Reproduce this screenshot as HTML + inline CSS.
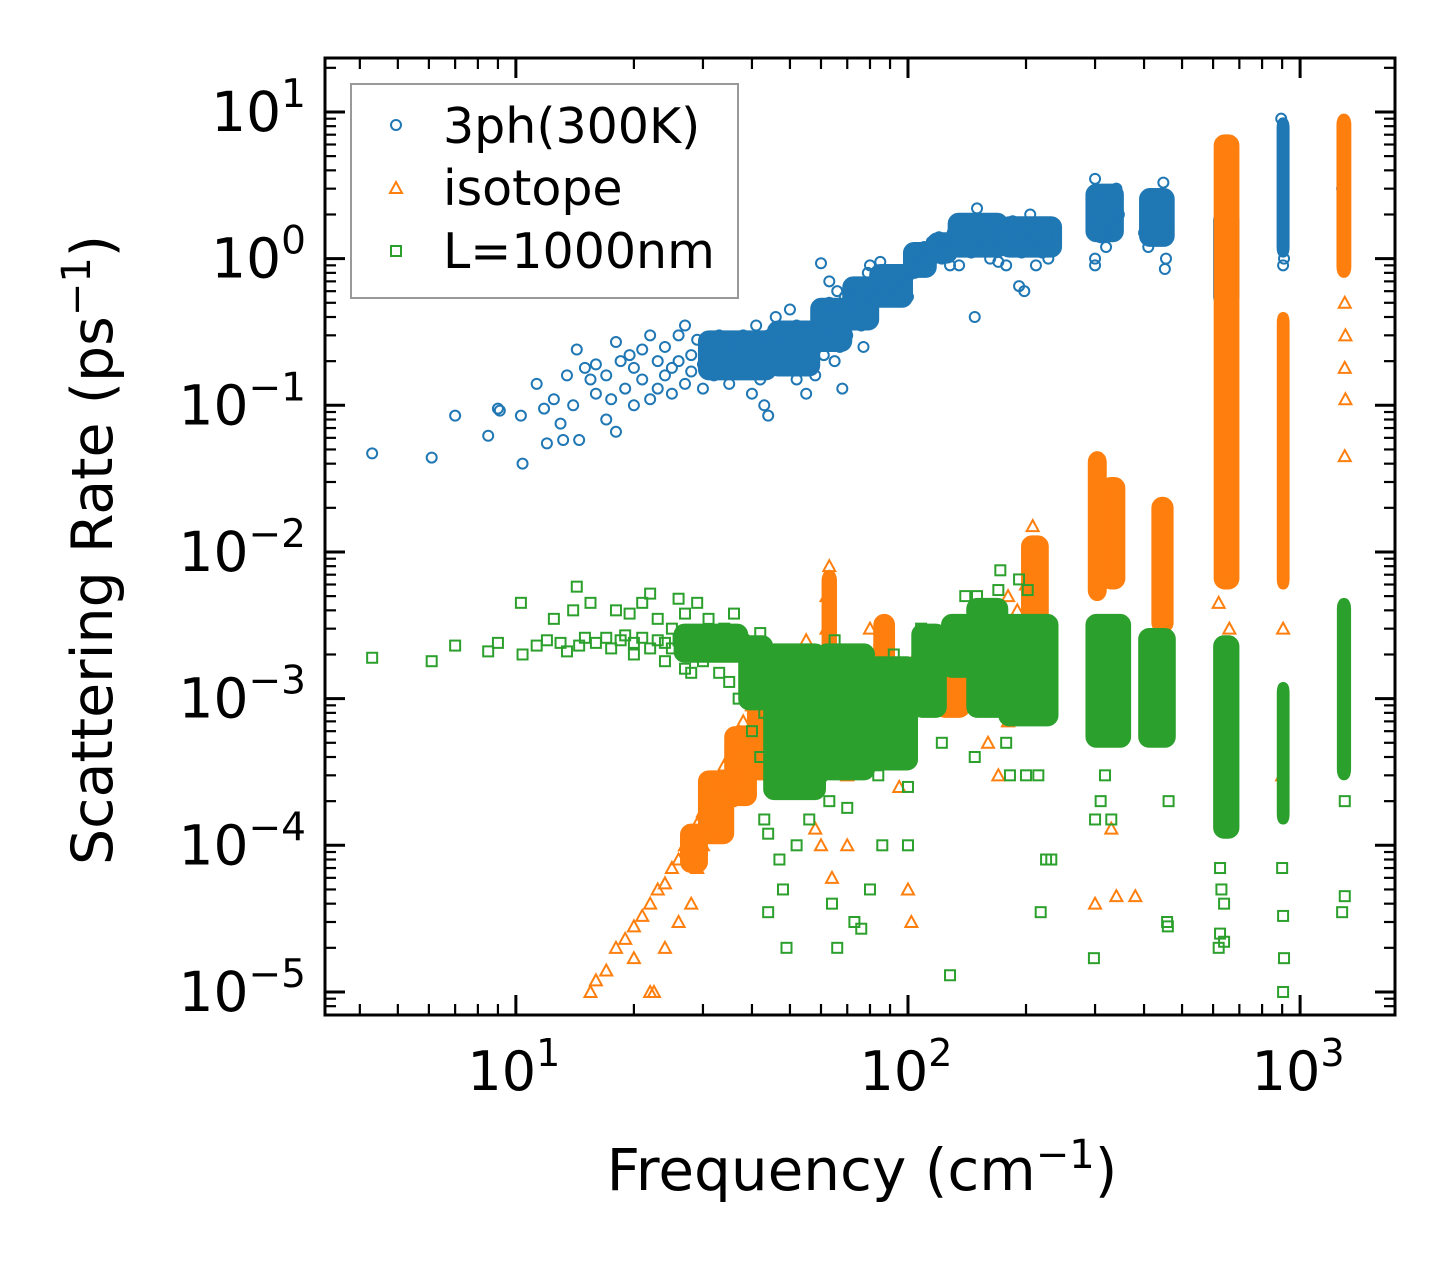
<!DOCTYPE html>
<html><head><meta charset="utf-8"><style>
html,body{margin:0;padding:0;background:#fff;}
svg{display:block;font-family:"DejaVu Sans","Liberation Sans",sans-serif;}
</style></head><body>
<svg id="chart" width="1455" height="1265" viewBox="0 0 1455 1265" xmlns="http://www.w3.org/2000/svg">
<rect x="0" y="0" width="1455" height="1265" fill="#fff"/>
<g id="marks"></g>
<g id="axes"></g>
<g>
<rect x="351" y="84" width="387" height="214" fill="#fff" fill-opacity="0.85" stroke="#999" stroke-width="2"/>
<circle cx="396" cy="125" r="5" fill="none" stroke="#1f77b4" stroke-width="2"/>
<text x="443" y="143" font-size="49">3ph(300K)</text>
<path d="M396,182 L402,193 L390,193 Z" fill="none" stroke="#ff7f0e" stroke-width="2"/>
<text x="443" y="205" font-size="49">isotope</text>
<rect x="391" y="246" width="10" height="10" fill="none" stroke="#2ca02c" stroke-width="2"/>
<text x="443" y="268" font-size="49">L=1000nm</text>
</g>
<text x="862" y="1190" font-size="58" text-anchor="middle">Frequency (cm<tspan dy="-22" font-size="40">−1</tspan><tspan dy="22">)</tspan></text>
<text transform="translate(112,550) rotate(-90)" font-size="57" text-anchor="middle">Scattering Rate (ps<tspan dy="-22" font-size="40">−1</tspan><tspan dy="22">)</tspan></text>
</svg>
<script>
const bluePts=[[4.3,0.047],[6.1,0.044],[7,0.085],[8.5,0.062],[9,0.095],[9.1,0.092],[10.4,0.04],[10.3,0.085],[11.3,0.14],[11.8,0.095],[12,0.055],[12.5,0.11],[13,0.075],[13.2,0.058],[13.5,0.16],[14,0.1],[14.3,0.24],[14.5,0.058],[15,0.18],[15.5,0.15],[16,0.19],[16,0.12],[17,0.16],[17,0.08],[17.5,0.11],[18,0.27],[18,0.066],[18.5,0.2],[19,0.13],[19.5,0.22],[20,0.18],[20,0.1],[21,0.24],[21,0.15],[22,0.11],[22,0.3],[23,0.2],[23,0.13],[24,0.25],[24,0.16],[25,0.18],[25,0.12],[26,0.3],[26,0.2],[27,0.14],[27,0.35],[28,0.22],[28,0.17],[29,0.28],[30,0.19],[30,0.13],[31,0.25],[32,0.16],[33,0.3],[34,0.2],[35,0.22],[35,0.14],[36,0.27],[37,0.18],[38,0.3],[39,0.24],[40,0.2],[40,0.12],[41,0.35],[42,0.15],[42,0.25],[43,0.1],[44,0.085],[44,0.3],[45,0.2],[46,0.4],[47,0.25],[48,0.18],[49,0.3],[50,0.45],[50,0.22],[52,0.15],[52,0.35],[54,0.25],[55,0.12],[56,0.3],[57,0.2],[58,0.16],[59,0.25],[60,0.93],[60,0.35],[61,0.22],[62,0.3],[63,0.5],[63,0.7],[64,0.45],[64,0.3],[65,0.2],[66,0.6],[67,0.4],[67,0.25],[68,0.13],[69,0.55],[70,0.45],[70,0.3],[72,0.5],[72,0.65],[74,0.4],[75,0.6],[76,0.35],[77,0.25],[78,0.5],[79,0.8],[80,0.6],[80,0.9],[82,0.5],[84,0.7],[85,0.95],[86,0.6],[88,0.55],[90,0.8],[92,0.65],[95,0.6],[97,0.7],[100,0.75],[100,0.55],[102,1.0],[104,0.8],[106,1.1],[108,0.9],[110,1.2],[112,1.0],[115,1.3],[118,1.15],[120,1.4],[122,1.0],[125,1.3],[128,0.9],[130,1.5],[132,1.2],[135,0.9],[137,1.6],[140,1.3],[142,1.8],[145,1.1],[148,0.4],[150,2.2],[150,1.4],[152,1.7],[155,1.2],[158,1.5],[160,1.8],[162,1.0],[165,1.4],[168,1.6],[170,0.95],[172,1.3],[175,1.7],[178,0.9],[180,1.2],[182,1.5],[185,1.8],[190,1.4],[192,0.65],[195,1.1],[198,0.6],[200,1.6],[202,1.3],[205,2.0],[208,1.2],[210,1.5],[212,0.9],[215,1.7],[218,1.3],[220,1.1],[225,1.4],[228,1.0],[230,1.2],[295,2.0],[298,1.5],[300,3.5],[300,1.0],[300,0.9],[302,2.5],[305,1.8],[308,2.2],[310,1.4],[312,2.8],[315,1.6],[320,1.2],[325,1.7],[330,1.5],[335,1.9],[340,3.0],[345,2.0],[400,1.5],[410,1.2],[448,3.3],[450,1.5],[452,0.85],[455,1.0],[625,0.5],[630,0.8],[895,9],[905,0.9],[910,1.0],[1280,3],[1300,2.2]];
const blueBands=[[30,45,0.16,0.3],[45,58,0.17,0.35],[58,70,0.25,0.5],[70,82,0.35,0.7],[82,100,0.5,0.85],[100,115,0.8,1.2],[115,130,1.0,1.4],[130,175,1.1,1.9],[175,240,1.1,1.8],[292,345,1.4,3.0],[400,465,1.3,2.8],[618,680,0.5,2.0],[897,913,1.1,8.5],[1278,1308,2.2,4.0]];
const orangePts=[[15.5,1e-5],[16,1.2e-5],[17,1.4e-5],[18,2e-5],[19,2.3e-5],[20,2.8e-5],[21,3.3e-5],[22,4e-5],[22,1e-5],[23,5e-5],[24,5.5e-5],[24,2e-5],[25,7e-5],[26,8e-5],[26,3e-5],[27,1e-4],[28,1.2e-4],[28,4e-5],[29,1.4e-4],[30,1.7e-4],[31,2e-4],[32,2.4e-4],[33,2.8e-4],[34,3.5e-4],[35,4e-4],[36,5e-4],[37,6e-4],[38,7e-4],[40,9e-4],[42,1.2e-3],[33,1.5e-4],[35,2e-4],[37,3e-4],[22.5,1e-5],[20,1.7e-5],[30,1e-4],[32,1.3e-4],[29,7e-5],[60,2e-3],[62,5e-3],[63,8e-3],[62,3e-3],[55,2.5e-3],[50,2e-3],[45,1.5e-3],[65,1e-3],[70,3e-4],[75,1.5e-3],[78,2e-3],[80,3e-3],[82,1.5e-3],[85,2.5e-3],[90,1.2e-3],[95,1e-3],[100,5e-5],[102,3e-5],[105,2e-3],[110,1.5e-3],[115,1.2e-3],[120,2e-3],[60,1e-4],[64,6e-5],[58,1.3e-4],[95,2.5e-4],[70,1e-4],[130,1.5e-3],[140,2.5e-3],[150,3.5e-3],[160,4e-3],[170,3e-3],[180,5e-3],[190,4e-3],[200,6e-3],[205,1e-2],[208,1.5e-2],[160,5e-4],[170,3e-4],[180,7e-4],[300,4e-5],[340,4.5e-5],[380,4.5e-5],[330,1.3e-4],[1300,0.5],[1305,0.3],[1300,0.18],[1305,0.11],[1300,0.045],[905,0.003],[900,3e-4],[660,0.003],[620,0.0045]];
const orangeBands=[[27,30,7e-5,1.3e-4],[30,35,1.1e-4,3e-4],[35,40,2e-4,6e-4],[40,46,3e-4,1.5e-3],[62,64,1.5e-3,7e-3],[84,90,8e-4,3.5e-3],[120,140,8e-4,2.5e-3],[200,222,0.0015,0.012],[296,312,0.005,0.045],[318,348,0.006,0.03],[430,462,0.003,0.022],[620,680,0.006,6.5],[898,913,0.006,0.4],[1275,1312,0.8,9]];
const greenPts=[[4.3,1.9e-3],[6.1,1.8e-3],[7,2.3e-3],[8.5,2.1e-3],[9,2.4e-3],[10.4,2e-3],[10.3,4.5e-3],[11.3,2.3e-3],[12,2.5e-3],[12.5,3.5e-3],[13,2.4e-3],[13.5,2.1e-3],[14,4e-3],[14.3,5.8e-3],[14.5,2.3e-3],[15,2.6e-3],[15.5,4.5e-3],[16,2.4e-3],[17,2.6e-3],[17.5,2.2e-3],[18,4e-3],[18.5,2.5e-3],[19,2.7e-3],[19.5,3.8e-3],[20,2.4e-3],[20,2.0e-3],[21,4.5e-3],[21,2.6e-3],[22,5.2e-3],[22,2.2e-3],[23,2.5e-3],[23,3.5e-3],[24,2.4e-3],[24,1.8e-3],[25,3e-3],[25,2.2e-3],[26,4.8e-3],[26,2.5e-3],[27,1.6e-3],[27,3.8e-3],[28,2.3e-3],[28,1.5e-3],[29,4.5e-3],[30,2.5e-3],[30,1.8e-3],[31,3.5e-3],[32,2.2e-3],[33,1.5e-3],[34,3e-3],[35,2.2e-3],[35,1.3e-3],[36,3.8e-3],[37,1e-3],[38,2.5e-3],[39,1.5e-3],[40,6e-4],[40,2e-3],[41,1e-3],[42,4e-4],[42,2.8e-3],[43,1.5e-4],[43,8e-4],[44,3.5e-5],[44,1.2e-4],[45,6e-4],[46,3e-4],[47,8e-5],[48,5e-5],[49,2e-5],[50,2.5e-4],[52,1e-4],[54,3e-4],[56,1.5e-4],[60,3e-4],[63,2e-4],[64,4e-5],[65,2.5e-3],[66,2e-5],[70,1.8e-4],[73,3e-5],[76,2.7e-5],[80,5e-5],[84,3e-4],[86,1e-4],[92,2e-3],[95,4e-4],[100,1e-4],[100,2.5e-4],[108,3e-3],[122,5e-4],[128,1.3e-5],[140,5e-3],[148,4e-4],[150,5e-3],[170,5.5e-3],[172,7.5e-3],[178,5e-4],[182,3e-4],[192,6.5e-3],[200,3e-4],[202,5.5e-3],[215,3e-4],[218,3.5e-5],[225,8e-5],[232,8e-5],[298,1.7e-5],[310,2e-4],[300,1.5e-4],[330,1.5e-4],[318,3e-4],[458,3e-5],[460,2.8e-5],[462,2e-4],[625,7e-5],[630,5e-5],[625,2.5e-5],[620,2e-5],[640,4e-5],[640,2.2e-5],[650,1.3e-4],[905,3.3e-5],[910,1.7e-5],[905,1e-5],[900,7e-5],[1280,3.5e-5],[1300,4.5e-5],[1300,2e-4]];
const greenBands=[[26,38,0.0019,0.003],[38,44,0.0009,0.0025],[44,60,0.00022,0.0022],[60,80,0.0003,0.0022],[80,103,0.00035,0.0018],[105,122,0.0008,0.003],[125,145,0.0015,0.0035],[145,175,0.0008,0.0045],[175,235,0.0007,0.0035],[292,360,0.0005,0.0035],[398,468,0.0005,0.0028],[618,680,0.00012,0.0025],[898,913,0.00015,0.0012],[1278,1310,0.0003,0.0045]];
const xTickLabels=["1","2","3"];
const yTickExps=[1,0,-1,-2,-3,-4,-5];

const L=325,R=1395,T=58,B=1015;
const xmin=Math.log10(3.26),xmax=Math.log10(1746),ymax=1.368,ymin=-5.157;
const X=v=>L+(Math.log10(v)-xmin)/(xmax-xmin)*(R-L);
const Y=v=>T+(ymax-Math.log10(v))/(ymax-ymin)*(B-T);
const NS="http://www.w3.org/2000/svg";
const marks=document.getElementById('marks'),axes=document.getElementById('axes');
function mk(tag,attrs,parent){const e=document.createElementNS(NS,tag);for(const k in attrs)e.setAttribute(k,attrs[k]);parent.appendChild(e);return e;}
function bands(arr,color,name){arr.forEach(b=>{const x1=X(b[0]),x2=X(b[1]),y1=Y(b[3]),y2=Y(b[2]);
 const r=mk('rect',{x:x1,y:y1,width:Math.max(1,x2-x1),height:Math.max(1,y2-y1),rx:6,fill:color,stroke:color,'stroke-width':10,'stroke-linejoin':'round'},marks);
 
 });}
function pts(arr,kind,color,name){arr.forEach(p=>{const x=X(p[0]),y=Y(p[1]);let e;
 if(kind==='c')e=mk('circle',{cx:x,cy:y,r:5,fill:'none',stroke:color,'stroke-width':2},marks);
 else if(kind==='t')e=mk('path',{d:`M${x},${y-6} L${x+6},${y+5} L${x-6},${y+5} Z`,fill:'none',stroke:color,'stroke-width':2},marks);
 else e=mk('rect',{x:x-5,y:y-5,width:10,height:10,fill:'none',stroke:color,'stroke-width':2},marks);
 
 });}
bands(blueBands,'#1f77b4','3ph-cluster');pts(bluePts,'c','#1f77b4','3ph-point');
bands(orangeBands,'#ff7f0e','isotope-cluster');pts(orangePts,'t','#ff7f0e','isotope-point');
bands(greenBands,'#2ca02c','boundary-cluster');pts(greenPts,'s','#2ca02c','boundary-point');

const fr=mk('rect',{x:L,y:T,width:R-L,height:B-T,fill:'none',stroke:'#000','stroke-width':3},axes);


for(let d=0;d<=3;d++){for(let m=1;m<=9;m++){const v=m*Math.pow(10,d);if(v<3.26||v>1746)continue;const x=X(v),len=m===1?20:11;
 mk('line',{x1:x,y1:B,x2:x,y2:B-len,stroke:'#000','stroke-width':m===1?3:2.2},axes);
 mk('line',{x1:x,y1:T,x2:x,y2:T+len,stroke:'#000','stroke-width':m===1?3:2.2},axes);}}
xTickLabels.forEach(e=>{const t=mk('text',{x:X(Math.pow(10,+e))-2,y:1090,'font-size':54,'text-anchor':'middle'},axes);
 
 
 t.innerHTML=`10<tspan dy="-24" font-size="38">${e}</tspan>`;});
for(let d=-6;d<=1;d++){for(let m=1;m<=9;m++){const v=m*Math.pow(10,d);const lv=Math.log10(v);if(lv<ymin||lv>ymax)continue;const y=Y(v),len=m===1?20:11;
 mk('line',{x1:L,y1:y,x2:L+len,y2:y,stroke:'#000','stroke-width':m===1?3:2.2},axes);
 mk('line',{x1:R,y1:y,x2:R-len,y2:y,stroke:'#000','stroke-width':m===1?3:2.2},axes);}}
yTickExps.forEach(e=>{const t=mk('text',{x:306,y:Y(Math.pow(10,e))+19,'font-size':55,'text-anchor':'end'},axes);
 
 
 t.innerHTML=`10<tspan dy="-24" font-size="39">${e<0?'−'+(-e):e}</tspan>`;});
</script>
</body></html>
